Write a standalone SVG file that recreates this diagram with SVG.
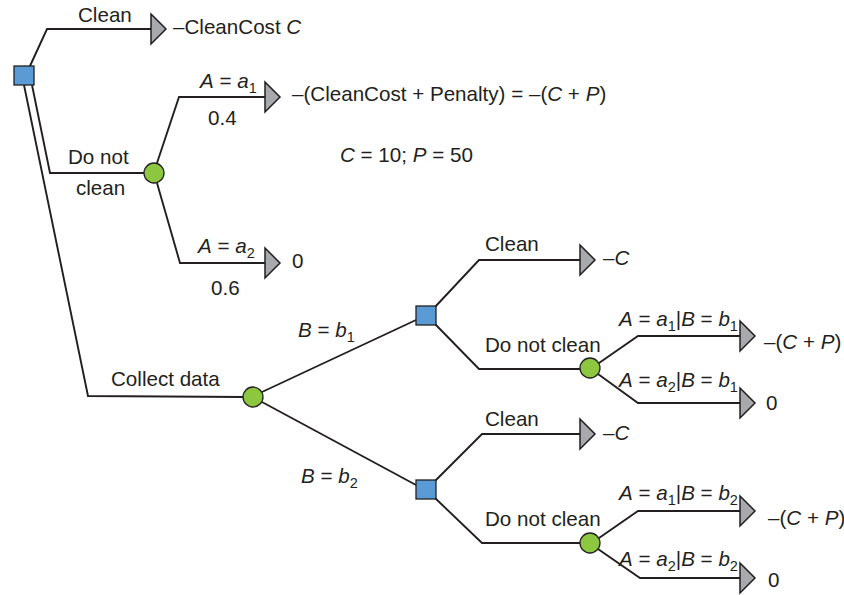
<svg xmlns="http://www.w3.org/2000/svg" width="844" height="595" viewBox="0 0 844 595">
<style>
.c{fill:none;stroke:#231f20;stroke-width:1.9;stroke-linejoin:miter}
.dec{fill:#5b9bd5;stroke:#231f20;stroke-width:1.3}
.ch{fill:#8dc63f;stroke:#231f20;stroke-width:1.3}
.term{fill:#a7a9ac;stroke:#231f20;stroke-width:1.5;stroke-linejoin:miter}
text{font-family:"Liberation Sans",Arial,sans-serif;font-size:20.6px;fill:#231f20}
.i{font-style:italic}
.s{font-size:14.5px}
</style>
<defs>
<path id="tri" d="M0,-15 L15,0 L0,15 Z"/>
</defs>
<rect width="844" height="595" fill="#ffffff"/>
<g id="connectors">
<path class="c" d="M30,66 L47,29 L151,29"/>
<path class="c" d="M32,85 L50,173 L144,173"/>
<path class="c" d="M24,85 L88,396 L243,397"/>
<path class="c" d="M157,163 L179,97 L265,97"/>
<path class="c" d="M157,183 L180,263 L265,263"/>
<path class="c" d="M262,392 L416,320"/>
<path class="c" d="M262,402 L416,485"/>
<path class="c" d="M435,307 L479,260 L580,260"/>
<path class="c" d="M435,324 L479,369 L580,369"/>
<path class="c" d="M599,363 L638,336 L740,336"/>
<path class="c" d="M598,374 L638,403 L740,403"/>
<path class="c" d="M435,481 L482,434 L580,434"/>
<path class="c" d="M435,498 L482,543 L580,543"/>
<path class="c" d="M599,538 L638,511 L740,511"/>
<path class="c" d="M598,549 L640,578 L740,578"/>
</g>
<g id="root"><rect class="dec" x="14" y="66" width="20" height="19"/></g>
<g id="chance-nodata"><circle class="ch" cx="154" cy="173" r="10"/></g>
<g id="chance-data"><circle class="ch" cx="253" cy="397" r="10"/></g>
<g id="decision-b1"><rect class="dec" x="416" y="306" width="20" height="19"/></g>
<g id="decision-b2"><rect class="dec" x="416" y="480" width="20" height="19"/></g>
<g id="chance-b1"><circle class="ch" cx="590" cy="368" r="10"/></g>
<g id="chance-b2"><circle class="ch" cx="590" cy="543" r="10"/></g>
<g id="end-clean"><use href="#tri" class="term" x="151" y="29"/><text x="173" y="34">–CleanCost <tspan class="i">C</tspan></text></g>
<g id="end-a1"><use href="#tri" class="term" x="265" y="97"/><text x="292" y="101">–(CleanCost + Penalty) = –(<tspan class="i">C</tspan> + <tspan class="i">P</tspan>)</text></g>
<g id="end-a2"><use href="#tri" class="term" x="265" y="263"/><text x="292" y="268">0</text></g>
<g id="end-b1-clean"><use href="#tri" class="term" x="580" y="260"/><text x="603" y="265">–<tspan class="i">C</tspan></text></g>
<g id="end-b1-a1"><use href="#tri" class="term" x="740" y="336"/><text x="764" y="349">–(<tspan class="i">C</tspan> + <tspan class="i">P</tspan>)</text></g>
<g id="end-b1-a2"><use href="#tri" class="term" x="740" y="403"/><text x="766" y="410">0</text></g>
<g id="end-b2-clean"><use href="#tri" class="term" x="580" y="434"/><text x="603" y="440">–<tspan class="i">C</tspan></text></g>
<g id="end-b2-a1"><use href="#tri" class="term" x="740" y="511"/><text x="768" y="525">–(<tspan class="i">C</tspan> + <tspan class="i">P</tspan>)</text></g>
<g id="end-b2-a2"><use href="#tri" class="term" x="740" y="578"/><text x="768" y="587">0</text></g>
<g id="labels">
<text x="78" y="22">Clean</text>
<text x="68" y="164">Do not</text>
<text x="76" y="195">clean</text>
<text x="200" y="88"><tspan class="i">A</tspan> = <tspan class="i">a</tspan><tspan class="s" dy="5">1</tspan></text>
<text x="208" y="125">0.4</text>
<text x="340" y="162"><tspan class="i">C</tspan> = 10; <tspan class="i">P</tspan> = 50</text>
<text x="198" y="253"><tspan class="i">A</tspan> = <tspan class="i">a</tspan><tspan class="s" dy="5">2</tspan></text>
<text x="211" y="295">0.6</text>
<text x="111" y="386">Collect data</text>
<text x="298" y="337"><tspan class="i">B</tspan> = <tspan class="i">b</tspan><tspan class="s" dy="5">1</tspan></text>
<text x="301" y="483"><tspan class="i">B</tspan> = <tspan class="i">b</tspan><tspan class="s" dy="5">2</tspan></text>
<text x="485" y="251">Clean</text>
<text x="485" y="352">Do not clean</text>
<text x="619" y="326"><tspan class="i">A</tspan> = <tspan class="i">a</tspan><tspan class="s" dy="5">1</tspan><tspan dy="-5">|</tspan><tspan class="i">B</tspan> = <tspan class="i">b</tspan><tspan class="s" dy="5">1</tspan></text>
<text x="619" y="387"><tspan class="i">A</tspan> = <tspan class="i">a</tspan><tspan class="s" dy="5">2</tspan><tspan dy="-5">|</tspan><tspan class="i">B</tspan> = <tspan class="i">b</tspan><tspan class="s" dy="5">1</tspan></text>
<text x="485" y="426">Clean</text>
<text x="485" y="526">Do not clean</text>
<text x="619" y="500"><tspan class="i">A</tspan> = <tspan class="i">a</tspan><tspan class="s" dy="5">1</tspan><tspan dy="-5">|</tspan><tspan class="i">B</tspan> = <tspan class="i">b</tspan><tspan class="s" dy="5">2</tspan></text>
<text x="619" y="566"><tspan class="i">A</tspan> = <tspan class="i">a</tspan><tspan class="s" dy="5">2</tspan><tspan dy="-5">|</tspan><tspan class="i">B</tspan> = <tspan class="i">b</tspan><tspan class="s" dy="5">2</tspan></text>
</g>
</svg>
